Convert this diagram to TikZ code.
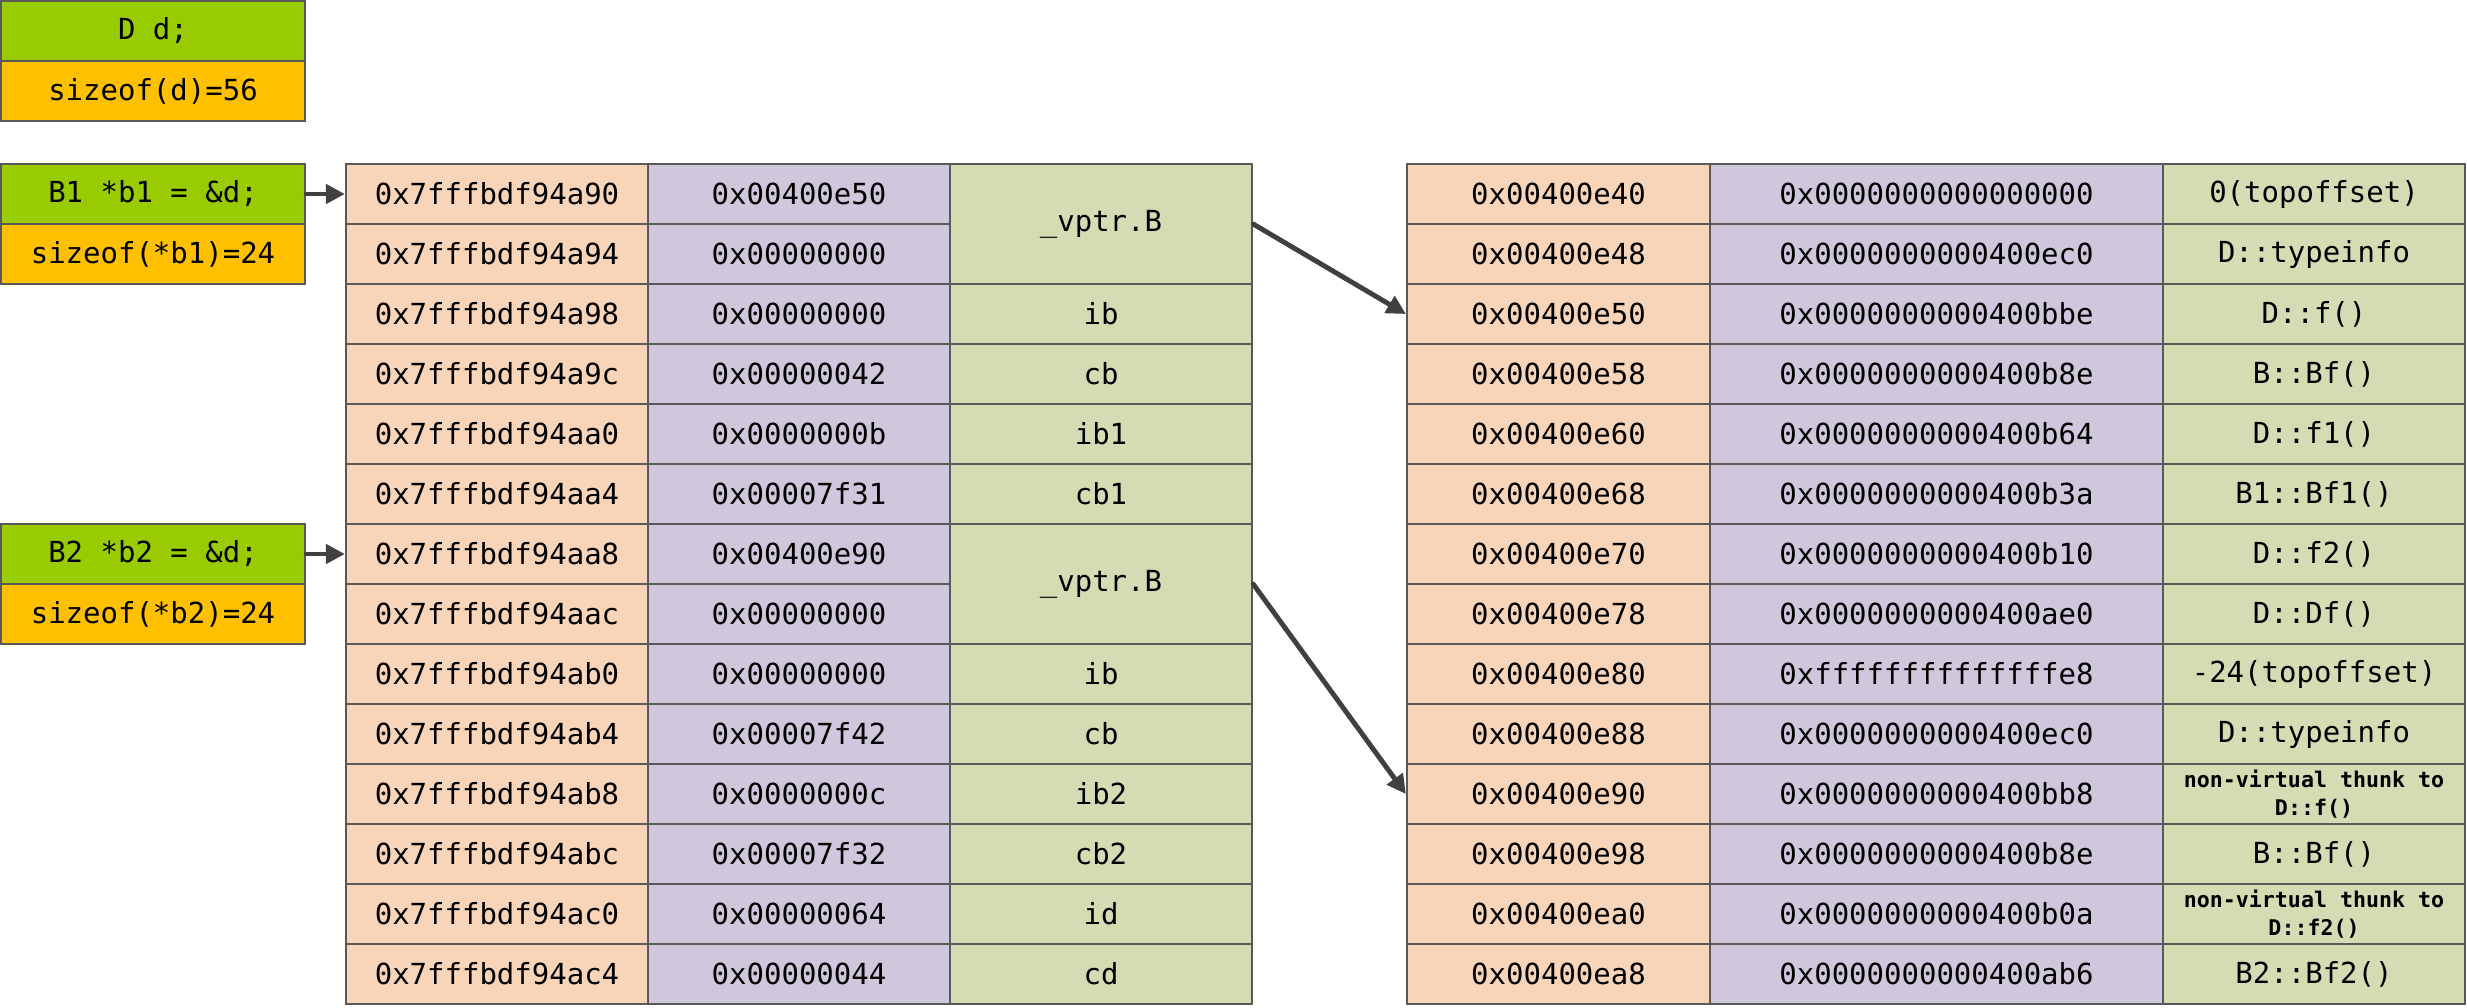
\documentclass[tikz,border=0pt]{standalone}
\usepackage{fontspec}
\setmonofont{DejaVu Sans Mono}
\usepackage{tikz}
\usetikzlibrary{positioning, arrows.meta}
\definecolor{declgreen}{HTML}{99CC00}
\definecolor{sizeorange}{HTML}{FFC000}
\definecolor{addrpeach}{HTML}{F8D5B9}
\definecolor{valpurple}{HTML}{CFC8DC}
\definecolor{namegreen}{HTML}{D4DCB4}
\definecolor{linegray}{HTML}{595959}
\definecolor{arrowgray}{HTML}{404040}
\tikzstyle{cell} = [rectangle, draw=linegray, line width=1.3pt, minimum height=1.2cm, inner sep=0pt, text centered, font=\fontsize{16.5}{20}\selectfont\ttfamily]
\tikzstyle{decl} = [cell, fill=declgreen, minimum width=6.08cm]
\tikzstyle{sizebox} = [cell, fill=sizeorange, minimum width=6.08cm]
\tikzstyle{addr} = [cell, fill=addrpeach, minimum width=6.04cm]
\tikzstyle{word} = [cell, fill=valpurple, minimum width=6.04cm]
\tikzstyle{member} = [cell, fill=namegreen, minimum width=6.04cm]
\tikzstyle{vaddr} = [cell, fill=addrpeach, minimum width=6.06cm]
\tikzstyle{ventry} = [cell, fill=valpurple, minimum width=9.06cm]
\tikzstyle{vfunc} = [cell, fill=namegreen, minimum width=6.04cm]
\tikzstyle{thunk} = [vfunc, align=center, font=\fontsize{12.3}{16}\selectfont\ttfamily\bfseries]
\tikzstyle{pointer} = [line width=2.8pt, draw=arrowgray, line cap=round, -{Triangle[length=0.38cm, width=0.38cm]}]

\begin{document}
\begin{tikzpicture}[node distance=1.2cm]
\useasboundingbox (0,0) rectangle (49.34,-20.14);

\node (dd) [decl] at (3.06,-0.62) {D d;};
\node (ddsz) [sizebox, below of=dd] {sizeof(d)=56};
\node (b1) [decl, below of=ddsz, yshift=-0.86cm] {B1 *b1 = \&d;};
\node (b1sz) [sizebox, below of=b1] {sizeof(*b1)=24};

\node (m0) [addr, right of=b1, xshift=5.68cm] {0x7fffbdf94a90};
\node (m1) [addr, below of=m0] {0x7fffbdf94a94};
\node (m2) [addr, below of=m1] {0x7fffbdf94a98};
\node (m3) [addr, below of=m2] {0x7fffbdf94a9c};
\node (m4) [addr, below of=m3] {0x7fffbdf94aa0};
\node (m5) [addr, below of=m4] {0x7fffbdf94aa4};
\node (m6) [addr, below of=m5] {0x7fffbdf94aa8};
\node (m7) [addr, below of=m6] {0x7fffbdf94aac};
\node (m8) [addr, below of=m7] {0x7fffbdf94ab0};
\node (m9) [addr, below of=m8] {0x7fffbdf94ab4};
\node (m10) [addr, below of=m9] {0x7fffbdf94ab8};
\node (m11) [addr, below of=m10] {0x7fffbdf94abc};
\node (m12) [addr, below of=m11] {0x7fffbdf94ac0};
\node (m13) [addr, below of=m12] {0x7fffbdf94ac4};

\node (v0) [word, right of=m0, xshift=4.84cm] {0x00400e50};
\node (v1) [word, below of=v0] {0x00000000};
\node (v2) [word, below of=v1] {0x00000000};
\node (v3) [word, below of=v2] {0x00000042};
\node (v4) [word, below of=v3] {0x0000000b};
\node (v5) [word, below of=v4] {0x00007f31};
\node (v6) [word, below of=v5] {0x00400e90};
\node (v7) [word, below of=v6] {0x00000000};
\node (v8) [word, below of=v7] {0x00000000};
\node (v9) [word, below of=v8] {0x00007f42};
\node (v10) [word, below of=v9] {0x0000000c};
\node (v11) [word, below of=v10] {0x00007f32};
\node (v12) [word, below of=v11] {0x00000064};
\node (v13) [word, below of=v12] {0x00000044};

\node (n01) [member, right of=v0, xshift=4.84cm, yshift=-0.6cm, minimum height=2.4cm] {\_vptr.B};
\node (n2) [member, right of=v2, xshift=4.84cm] {ib};
\node (n3) [member, below of=n2] {cb};
\node (n4) [member, below of=n3] {ib1};
\node (n5) [member, below of=n4] {cb1};
\node (n67) [member, right of=v6, xshift=4.84cm, yshift=-0.6cm, minimum height=2.4cm] {\_vptr.B};
\node (n8) [member, right of=v8, xshift=4.84cm] {ib};
\node (n9) [member, below of=n8] {cb};
\node (n10) [member, below of=n9] {ib2};
\node (n11) [member, below of=n10] {cb2};
\node (n12) [member, below of=n11] {id};
\node (n13) [member, below of=n12] {cd};

\node (b2) [decl, left of=m6, xshift=-5.68cm] {B2 *b2 = \&d;};
\node (b2sz) [sizebox, below of=b2] {sizeof(*b2)=24};

\node (t0) [vaddr, right of=m0, xshift=20.03cm] {0x00400e40};
\node (t1) [vaddr, below of=t0] {0x00400e48};
\node (t2) [vaddr, below of=t1] {0x00400e50};
\node (t3) [vaddr, below of=t2] {0x00400e58};
\node (t4) [vaddr, below of=t3] {0x00400e60};
\node (t5) [vaddr, below of=t4] {0x00400e68};
\node (t6) [vaddr, below of=t5] {0x00400e70};
\node (t7) [vaddr, below of=t6] {0x00400e78};
\node (t8) [vaddr, below of=t7] {0x00400e80};
\node (t9) [vaddr, below of=t8] {0x00400e88};
\node (t10) [vaddr, below of=t9] {0x00400e90};
\node (t11) [vaddr, below of=t10] {0x00400e98};
\node (t12) [vaddr, below of=t11] {0x00400ea0};
\node (t13) [vaddr, below of=t12] {0x00400ea8};

\node (u0) [ventry, right of=t0, xshift=6.36cm] {0x0000000000000000};
\node (u1) [ventry, below of=u0] {0x0000000000400ec0};
\node (u2) [ventry, below of=u1] {0x0000000000400bbe};
\node (u3) [ventry, below of=u2] {0x0000000000400b8e};
\node (u4) [ventry, below of=u3] {0x0000000000400b64};
\node (u5) [ventry, below of=u4] {0x0000000000400b3a};
\node (u6) [ventry, below of=u5] {0x0000000000400b10};
\node (u7) [ventry, below of=u6] {0x0000000000400ae0};
\node (u8) [ventry, below of=u7] {0xffffffffffffffe8};
\node (u9) [ventry, below of=u8] {0x0000000000400ec0};
\node (u10) [ventry, below of=u9] {0x0000000000400bb8};
\node (u11) [ventry, below of=u10] {0x0000000000400b8e};
\node (u12) [ventry, below of=u11] {0x0000000000400b0a};
\node (u13) [ventry, below of=u12] {0x0000000000400ab6};

\node (f0) [vfunc, right of=u0, xshift=6.35cm] {0(topoffset)};
\node (f1) [vfunc, below of=f0] {D::typeinfo};
\node (f2) [vfunc, below of=f1] {D::f()};
\node (f3) [vfunc, below of=f2] {B::Bf()};
\node (f4) [vfunc, below of=f3] {D::f1()};
\node (f5) [vfunc, below of=f4] {B1::Bf1()};
\node (f6) [vfunc, below of=f5] {D::f2()};
\node (f7) [vfunc, below of=f6] {D::Df()};
\node (f8) [vfunc, below of=f7] {-24(topoffset)};
\node (f9) [vfunc, below of=f8] {D::typeinfo};
\node (f10) [thunk, below of=f9] {non-virtual thunk to\\D::f()};
\node (f11) [vfunc, below of=f10] {B::Bf()};
\node (f12) [thunk, below of=f11] {non-virtual thunk to\\D::f2()};
\node (f13) [vfunc, below of=f12] {B2::Bf2()};

\draw [pointer] (b1) -- (m0);
\draw [pointer] (b2) -- (m6);
\draw [pointer] (n01.east) -- (t2.west);
\draw [pointer] (n67.east) -- (t10.west);
\end{tikzpicture}
\end{document}
